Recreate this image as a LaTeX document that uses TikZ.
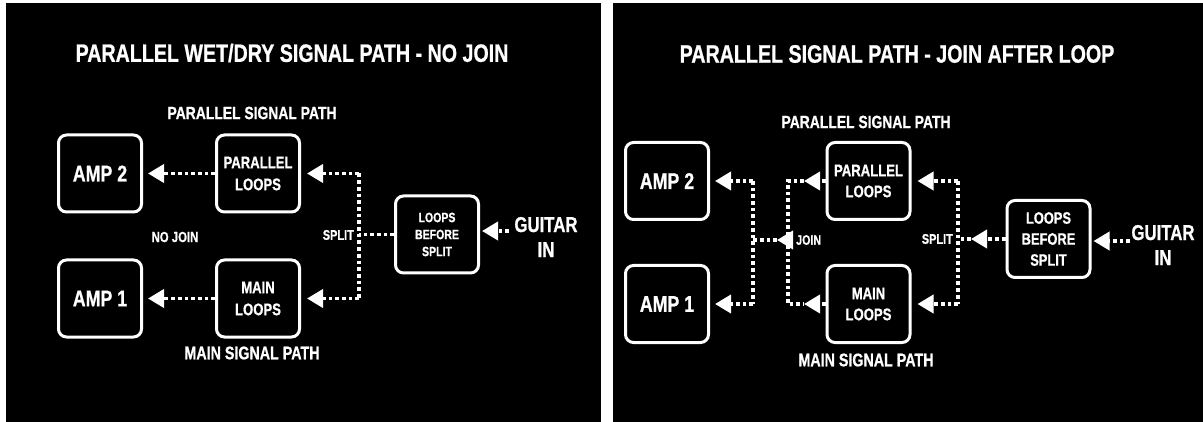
\documentclass[tikz,border=0pt]{standalone}
\usepackage{fontspec}
\newfontfamily\cf{Liberation Sans}[FakeStretch=0.78, BoldFeatures={FakeBold=0.8}]
\usetikzlibrary{arrows.meta}
\tikzset{
  txt/.style n args={2}{font=\cf\bfseries\fontsize{#1}{#2}\selectfont, text=white, align=center, inner sep=0pt},
  box/.style={draw=white, line width=3pt, rounded corners=8pt, minimum width=83pt, minimum height=77pt, inner sep=0pt, fill=black, text=white, align=center},
  dotline/.style={draw=white, line width=3.7pt, line cap=butt, dash pattern=on 3.7pt off 3pt},
  arr/.style={-{Triangle[length=16pt,width=18pt]}, shorten >=#1},
  arr/.default=0pt
}
\begin{document}
\begin{tikzpicture}[x=1pt,y=-1pt]
\useasboundingbox (0,0) rectangle (1203,422);
\fill[white] (0,0) rectangle (1203,422);
\fill[black] (6,3) rectangle (601,422);
\fill[black] (613,3) rectangle (1203,422);

% ---------- left panel ----------
\node[txt={25.2}{28}] (titleL) at (292,53) {PARALLEL WET/DRY SIGNAL PATH - NO JOIN};
\node[txt={17.8}{21}] (psL) at (252,113) {PARALLEL SIGNAL PATH};
\node[txt={18.3}{21}] (msL) at (252,353) {MAIN SIGNAL PATH};
\node[box, txt={22.8}{26}] (amp2L) at (100,173.5) {AMP 2};
\node[box, txt={22.8}{26}] (amp1L) at (100,298.5) {AMP 1};
\node[box, txt={16.8}{22}] (plL) at (258,173.5) {PARALLEL\\LOOPS};
\node[box, txt={16.8}{22}] (mlL) at (258,298.5) {MAIN\\LOOPS};
\node[box, txt={13.5}{17}] (lbsL) at (437,234.5) {LOOPS\\BEFORE\\SPLIT};
\node[txt={14.6}{17}] (nojoin) at (175,237) {NO JOIN};
\node[txt={14}{17}, anchor=east] (splitL) at (354,235) {SPLIT};
\node[txt={21.5}{25}] (guitarL) at (546,237) {GUITAR\\IN};

\coordinate (spL) at (359,234.5);
\coordinate (spLt) at (359,173.5);
\coordinate (spLb) at (359,298.5);
\coordinate (giL) at (509,231);
\draw[dotline] (lbsL.west) -- (spL);
\draw[dotline] (spLt) -- (spLb);
\draw[dotline,arr=6pt] (spLt) -- (plL.east);
\draw[dotline,arr=6pt] (spLb) -- (mlL.east);
\draw[dotline,arr=5pt] (plL.west) -- (amp2L.east);
\draw[dotline,arr=5pt] (mlL.west) -- (amp1L.east);
\draw[dotline,arr=2pt] (giL) -- (giL -| lbsL.east);

% ---------- right panel ----------
\node[txt={25.2}{28}] (titleR) at (897,54) {PARALLEL SIGNAL PATH - JOIN AFTER LOOP};
\node[txt={17.8}{21}] (psR) at (866,122) {PARALLEL SIGNAL PATH};
\node[txt={18.3}{21}] (msR) at (866,360) {MAIN SIGNAL PATH};
\node[box, txt={22.8}{26}] (amp2R) at (667,181) {AMP 2};
\node[box, txt={22.8}{26}] (amp1R) at (667,304) {AMP 1};
\node[box, txt={16.8}{21}] (plR) at (868.5,181) {PARALLEL\\LOOPS};
\node[box, txt={16.8}{21}] (mlR) at (868.5,304) {MAIN\\LOOPS};
\node[box, txt={16.5}{21}] (lbsR) at (1048.5,239) {LOOPS\\BEFORE\\SPLIT};
\node[txt={14}{17}, anchor=east] (splitR) at (953,239) {SPLIT};
\node[txt={13.7}{17}, anchor=west] (joinR) at (796,240) {JOIN};
\node[txt={21.5}{25}] (guitarR) at (1163,245) {GUITAR\\IN};

\coordinate (giR) at (1130,241);
\coordinate (spRtip) at (971,239);
\coordinate (spR) at (958,239);
\coordinate (spRt) at (958,181);
\coordinate (spRb) at (958,304);
\coordinate (jRt) at (804,181);
\coordinate (jRt2) at (788,181);
\coordinate (jRb2) at (788,304);
\coordinate (jRb) at (804,304);
\coordinate (joinbase) at (793,240);
\coordinate (jointip) at (777,240);
\coordinate (bus) at (753,240);
\coordinate (busT) at (753,181);
\coordinate (busB) at (753,304);

\draw[dotline,arr=2pt] (giR) -- (giR -| lbsR.east);
\draw[dotline,arr] (lbsR.west) -- (spRtip);
\draw[dotline] (spRtip) -- (spR);
\draw[dotline] (spRt) -- (spRb);
\draw[dotline,arr=6pt] (spRt) -- (plR.east);
\draw[dotline,arr=6pt] (spRb) -- (mlR.east);
\draw[dotline,arr] (plR.west) -- (jRt);
\draw[dotline,arr] (mlR.west) -- (jRb);
\draw[dotline] (jRt) -- (jRt2) -- (jRb2) -- (jRb);
\draw[dotline,arr] (joinbase) -- (jointip);
\draw[dotline] (jointip) -- (bus);
\draw[dotline] (busT) -- (busB);
\draw[dotline,arr=5pt] (busT) -- (amp2R.east);
\draw[dotline,arr=5pt] (busB) -- (amp1R.east);
\end{tikzpicture}
\end{document}
